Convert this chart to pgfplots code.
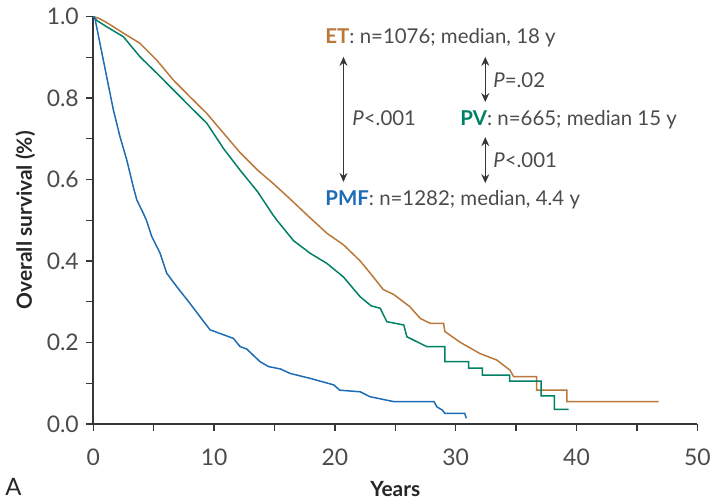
\documentclass[border=0pt]{standalone}
\usepackage{fontspec}
\setmainfont{Lato}
\usepackage{pgfplots}
\pgfplotsset{compat=1.18}
\usetikzlibrary{arrows.meta}
\definecolor{etc}{RGB}{186,120,58}
\definecolor{pvc}{RGB}{0,128,100}
\definecolor{pmfc}{RGB}{30,108,180}
\definecolor{axc}{RGB}{55,55,55}
\definecolor{txc}{RGB}{75,75,75}
\begin{document}
\begin{tikzpicture}
\path[use as bounding box] (-93.3bp,-79bp) rectangle (620.7bp,424bp);
\begin{axis}[
  at={(0,0)}, anchor=south west,
  width=604bp, height=407.5bp, scale only axis,
  xmin=0, xmax=50, ymin=0, ymax=1,
  axis lines*=left,
  axis line style={line width=1.6bp, axc},
  xtick={0,10,...,50}, minor xtick={5,15,...,45},
  ytick={0,0.2,...,1.0}, minor ytick={0.1,0.3,...,0.9},
  tick align=outside,
  major tick length=7bp, minor tick length=7bp,
  every tick/.style={line width=1.3bp, axc},
  /pgf/number format/assume math mode=true,
  yticklabel style={xshift=-4bp},
  y tick label style={/pgf/number format/.cd, fixed, fixed zerofill, precision=1},
  xticklabel style={yshift=-14bp},
  tick label style={font=\fontsize{23}{27}\selectfont, text=txc},
  xlabel={Years}, ylabel={Overall survival (\%)},
  label style={font=\fontsize{21}{25}\selectfont\bfseries, text=black!85},
  xlabel style={at={(axis description cs:0.5,-0.1595)}, anchor=center},
  ylabel style={at={(axis description cs:-0.1126,0.5)}, anchor=center},
  clip=false,
  every axis plot/.append style={line width=1.5bp, line join=miter},
]
% ET
\addplot[etc] coordinates {
(0,1.0)(0.5,0.995)(1,0.987)(1.5,0.978)(2.5,0.959)(3.87,0.934)(5.25,0.893)(6.63,0.844)(8.0,0.803)(9.4,0.762)(10.8,0.713)(12.15,0.666)(13.6,0.623)(14.9,0.59)(16.3,0.552)(17.8,0.51)(19.34,0.468)(20.7,0.44)(22.1,0.400)(23.2,0.36)(24.0,0.33)(24.86,0.318)(26.2,0.288)(27.07,0.259)(27.9,0.247)(29.0,0.247)(29.1,0.227)(30.4,0.2)(32.0,0.173)(33.4,0.157)(34.5,0.132)(34.8,0.116)(36.7,0.116)(36.7,0.083)(39.2,0.083)(39.2,0.055)(46.8,0.055)
};
% PV
\addplot[pvc] coordinates {
(0,1.0)(0.3,0.99)(1.1,0.975)(2.5,0.950)(3.87,0.901)(5.25,0.861)(6.63,0.820)(8.0,0.779)(9.4,0.738)(10.8,0.675)(12.15,0.623)(13.6,0.57)(14.9,0.512)(15.2,0.5)(16.57,0.45)(17.95,0.419)(19.34,0.394)(20.7,0.361)(22.1,0.312)(23.0,0.29)(23.75,0.284)(24.3,0.251)(25.7,0.243)(25.96,0.214)(27.6,0.19)(29.1,0.19)(29.1,0.153)(31.07,0.153)(31.07,0.137)(32.2,0.137)(32.2,0.12)(34.47,0.12)(34.47,0.105)(37.07,0.105)(37.07,0.069)(38.17,0.069)(38.17,0.036)(39.35,0.036)
};
% PMF
\addplot[pmfc] coordinates {
(0,1.0)(0.14,0.995)(0.55,0.934)(1.11,0.852)(1.66,0.771)(2.21,0.705)(2.77,0.648)(3.31,0.582)(3.6,0.55)(4.14,0.517)(4.4,0.5)(4.84,0.46)(5.53,0.419)(6.08,0.37)(6.91,0.337)(8.0,0.296)(8.84,0.263)(9.67,0.231)(10.5,0.222)(11.6,0.21)(12.15,0.19)(12.7,0.184)(13.8,0.153)(14.5,0.141)(15.5,0.135)(16.3,0.124)(17.95,0.112)(19.9,0.096)(20.4,0.083)(22.1,0.079)(22.9,0.067)(24.86,0.055)(28.2,0.055)(28.45,0.042)(28.9,0.034)(29.1,0.026)(30.75,0.026)(30.88,0.014)
};
\begin{scope}[every node/.style={font=\fontsize{20.5}{24}\selectfont, text=txc, inner sep=0pt}]
\node[anchor=west] at (axis cs:19.2,0.947) {\textbf{\color{etc}ET}: n=1076; median, 18 y};
\node[anchor=west] at (axis cs:30.38,0.746) {\textbf{\color{pvc}PV}: n=665; median 15 y};
\node[anchor=west] at (axis cs:19.2,0.55) {\textbf{\color{pmfc}PMF}: n=1282; median, 4.4 y};
\node[anchor=west] at (axis cs:21.43,0.751) {\textit{P}<.001};
\node[anchor=west] at (axis cs:33.1,0.844) {\textit{P}=.02};
\node[anchor=west] at (axis cs:33.1,0.648) {\textit{P}<.001};
\end{scope}
\begin{scope}[{Stealth[length=9bp,width=8bp]}-{Stealth[length=9bp,width=8bp]}, line width=1.3bp, axc]
\draw (axis cs:20.71,0.901) -- (axis cs:20.71,0.594);
\draw (axis cs:32.45,0.901) -- (axis cs:32.45,0.790);
\draw (axis cs:32.45,0.704) -- (axis cs:32.45,0.591);
\end{scope}
\end{axis}
\node[anchor=south west, inner sep=0pt, font=\fontsize{24}{28}\selectfont, text=black!85] at (-88bp,-72bp) {A};
\end{tikzpicture}
\end{document}
